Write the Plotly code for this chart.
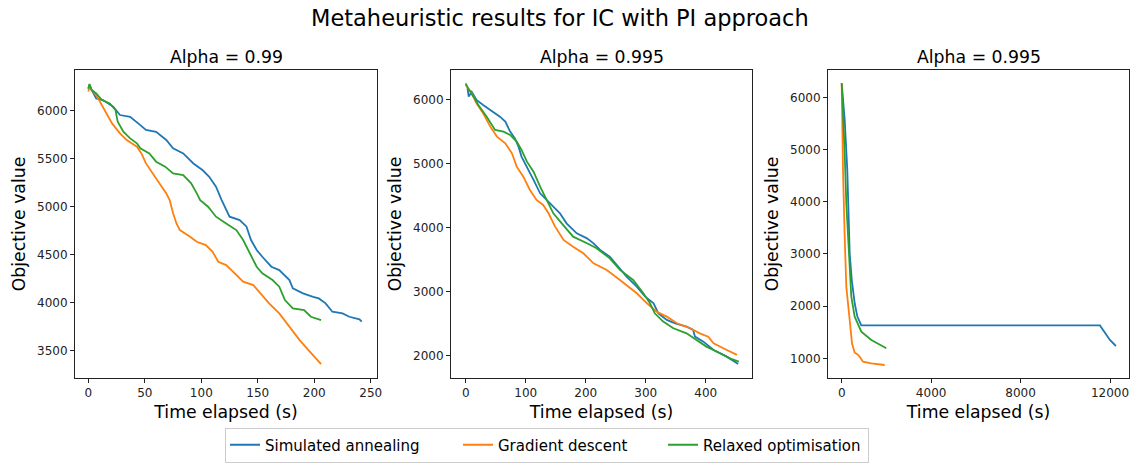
import plotly.graph_objects as go

# ---------------- data ----------------
series_names = ["Simulated annealing", "Gradient descent", "Relaxed optimisation"]
series_colors = ["#1f77b4", "#ff7f0e", "#2ca02c"]
panel_titles = ["Alpha = 0.99", "Alpha = 0.995", "Alpha = 0.995"]

# Panel 1 (Alpha = 0.99)
p1_sa_t = [0, 1, 3, 7, 13, 22, 28, 37, 46, 51, 60, 69, 75, 84, 93, 101, 107, 113, 118, 125, 134, 140,
           144, 149, 154, 162, 169, 178, 181, 190, 199, 204, 210, 216, 225, 231, 240, 242]
p1_sa_v = [6230, 6270, 6215, 6128, 6111, 6042, 5955, 5937, 5850, 5800, 5780, 5695, 5608, 5555, 5450, 5382,
           5312, 5208, 5069, 4896, 4861, 4792, 4653, 4549, 4479, 4375, 4340, 4236, 4149, 4097, 4062, 4045,
           3993, 3906, 3889, 3854, 3826, 3802]
p1_gd_t = [0, 1, 7, 12, 16, 21, 28, 34, 43, 47, 51, 57, 63, 69, 72, 75, 78, 81, 90, 96, 104, 110, 115,
           122, 128, 137, 146, 151, 160, 169, 178, 187, 196, 203, 206]
p1_gd_v = [6200, 6243, 6163, 6059, 5972, 5868, 5764, 5694, 5625, 5555, 5451, 5347, 5243, 5139, 5069, 4931,
           4826, 4757, 4688, 4635, 4601, 4531, 4427, 4392, 4323, 4219, 4184, 4115, 3993, 3889, 3750, 3611,
           3490, 3403, 3361]
p1_ro_t = [0, 1, 3, 7, 12, 19, 24, 26, 31, 37, 43, 46, 54, 60, 68, 75, 84, 91, 96, 99, 106, 113, 122,
           131, 137, 143, 149, 154, 163, 169, 174, 181, 191, 197, 204, 206]
p1_ro_v = [6230, 6278, 6215, 6180, 6111, 6076, 6007, 5885, 5781, 5712, 5660, 5608, 5555, 5469, 5417, 5347,
           5330, 5243, 5139, 5069, 5000, 4896, 4826, 4757, 4653, 4514, 4375, 4306, 4236, 4167, 4028, 3941,
           3924, 3854, 3826, 3819]

# Panel 2 (Alpha = 0.995)
p2_sa_t = [3, 5, 10, 18, 29, 41, 49, 57, 66, 74, 82, 88, 93, 102, 113, 124, 135, 146, 157, 168, 185, 202,
           213, 224, 240, 254, 268, 285, 299, 313, 321, 335, 349, 368, 379, 382, 396, 413, 435, 454]
p2_sa_v = [6180, 6052, 6130, 6000, 5922, 5844, 5791, 5739, 5661, 5505, 5400, 5270, 5114, 4957, 4749, 4540,
           4436, 4332, 4227, 4071, 3914, 3836, 3758, 3654, 3550, 3393, 3237, 3080, 2924, 2820, 2663, 2559,
           2507, 2455, 2402, 2298, 2220, 2090, 1985, 1871]
p2_gd_t = [0, 10, 18, 29, 41, 52, 66, 77, 85, 96, 107, 118, 129, 138, 149, 163, 179, 196, 213, 235, 257,
           285, 302, 318, 335, 352, 374, 390, 404, 413, 435, 452]
p2_gd_v = [6235, 6104, 5948, 5791, 5583, 5427, 5322, 5166, 4957, 4801, 4592, 4436, 4358, 4227, 4019, 3810,
           3706, 3602, 3445, 3341, 3185, 2976, 2820, 2689, 2611, 2507, 2429, 2350, 2298, 2194, 2090, 2012]
p2_ro_t = [0, 4, 13, 21, 35, 49, 63, 74, 85, 93, 102, 113, 124, 135, 146, 160, 179, 202, 218, 240, 257,
           279, 296, 307, 315, 329, 346, 368, 385, 401, 424, 440, 455]
p2_ro_v = [6260, 6182, 6052, 5922, 5739, 5531, 5505, 5453, 5348, 5218, 5035, 4879, 4644, 4436, 4227, 4071,
           3862, 3758, 3680, 3523, 3341, 3185, 2976, 2820, 2663, 2533, 2429, 2350, 2246, 2142, 2038, 1959,
           1907]

# Panel 3 (Alpha = 0.995, long run)
p3_sa_t = [0, 134, 250, 357, 450, 581, 700, 877, 11550, 11773, 11997, 12265]
p3_sa_v = [6268, 5565, 4607, 3011, 2500, 2054, 1800, 1630, 1630, 1479, 1351, 1236]
p3_gd_t = [0, 13, 58, 134, 206, 357, 460, 581, 700, 805, 953, 1324, 1923]
p3_gd_v = [6268, 5565, 4607, 3330, 2372, 1734, 1287, 1107, 1080, 1030, 935, 904, 872]
p3_ro_t = [0, 58, 134, 206, 313, 429, 581, 877, 1324, 1995]
p3_ro_v = [6268, 5757, 4927, 3969, 3011, 2180, 1797, 1510, 1350, 1192]

x_ticks = [[0, 50, 100, 150, 200, 250], [0, 100, 200, 300, 400], [0, 4000, 8000, 12000]]
y_ticks = [[3500, 4000, 4500, 5000, 5500, 6000], [2000, 3000, 4000, 5000, 6000],
           [1000, 2000, 3000, 4000, 5000, 6000]]

panels = [
    [(p1_sa_t, p1_sa_v), (p1_gd_t, p1_gd_v), (p1_ro_t, p1_ro_v)],
    [(p2_sa_t, p2_sa_v), (p2_gd_t, p2_gd_v), (p2_ro_t, p2_ro_v)],
    [(p3_sa_t, p3_sa_v), (p3_gd_t, p3_gd_v), (p3_ro_t, p3_ro_v)],
]

# ---------------- layout geometry ----------------
W, H = 1134, 464
x_dom_px = [(75, 377), (451, 752), (828, 1129)]
y_dom_px = (70, 378)
x_ranges = [[-11.8, 255.5], [-24.5, 477], [-613, 12850]]
y_ranges = [[3216, 6424], [1651, 6469], [623, 6523]]
legend_widths = [188, 160, 160]

FONT = "DejaVu Sans, Liberation Sans, sans-serif"

fig = go.Figure()
for p, series in enumerate(panels):
    ax = "" if p == 0 else str(p + 1)
    for s, (t, v) in enumerate(series):
        fig.add_trace(go.Scatter(
            x=t, y=v, mode="lines", name=series_names[s],
            line=dict(color=series_colors[s], width=1.8),
            xaxis="x" + ax, yaxis="y" + ax,
            legendgroup=series_names[s], showlegend=(p == 0),
            legendwidth=legend_widths[s],
        ))

axis_common = dict(
    showline=True, mirror=True, linecolor="#222", linewidth=1,
    ticks="outside", ticklen=4, tickwidth=1, tickcolor="#222",
    showgrid=False, zeroline=False, automargin=False,
    tickfont=dict(family=FONT, size=12, color="#222"),
)

layout = dict(
    width=W, height=H,
    margin=dict(l=0, r=0, t=0, b=0),
    paper_bgcolor="white", plot_bgcolor="white",
    font=dict(family=FONT, color="black"),
    showlegend=True,
    legend=dict(
        orientation="h", x=547 / W, xanchor="center", y=1 - 445 / H, yanchor="middle",
        bordercolor="#cccccc", borderwidth=1, bgcolor="white",
        font=dict(family=FONT, size=15, color="black"),
    ),
)

y0 = 1 - y_dom_px[1] / H
y1 = 1 - y_dom_px[0] / H
annotations = [dict(
    text="Metaheuristic results for IC with PI approach", x=560 / W, y=1 - 18 / H,
    xref="paper", yref="paper", xanchor="center", yanchor="middle", showarrow=False,
    font=dict(family=FONT, size=22.5, color="black"))]

for p in range(3):
    ax = "" if p == 0 else str(p + 1)
    xd = [x_dom_px[p][0] / W, x_dom_px[p][1] / W]
    layout["xaxis" + ax] = dict(
        axis_common, domain=xd, range=x_ranges[p], tickvals=x_ticks[p],
        ticktext=[str(v) for v in x_ticks[p]],
        anchor="y" + ax,
        title=dict(text="Time elapsed (s)", standoff=6, font=dict(family=FONT, size=17.3, color="black")),
    )
    layout["yaxis" + ax] = dict(
        axis_common, domain=[y0, y1], range=y_ranges[p], tickvals=y_ticks[p],
        ticktext=[str(v) for v in y_ticks[p]],
        anchor="x" + ax,
        title=dict(text="Objective value", standoff=6, font=dict(family=FONT, size=17.3, color="black")),
    )
    annotations.append(dict(
        text=panel_titles[p], x=(x_dom_px[p][0] + x_dom_px[p][1]) / 2 / W, y=1 - 57 / H,
        xref="paper", yref="paper", xanchor="center", yanchor="middle", showarrow=False,
        font=dict(family=FONT, size=17.3, color="black")))

layout["annotations"] = annotations
fig.update_layout(layout)
fig.write_html("out.html")
